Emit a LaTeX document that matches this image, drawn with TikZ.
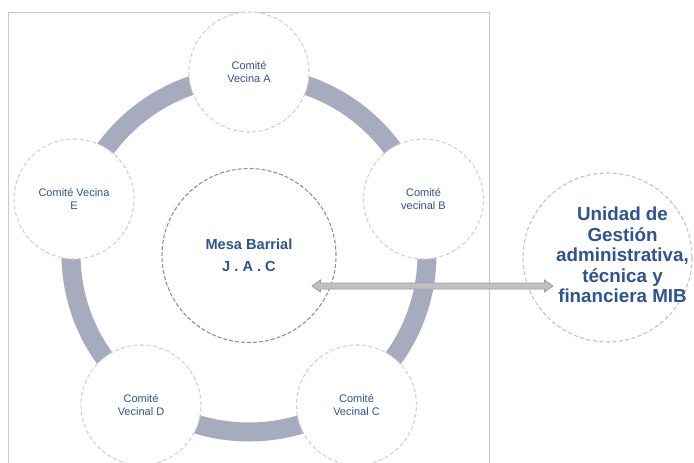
\documentclass[tikz,border=0pt]{standalone}
\usepackage{fontspec}
\setmainfont{Liberation Sans}
\usetikzlibrary{calc}
\definecolor{textblue}{RGB}{46,84,146}
\definecolor{ringgray}{RGB}{166,172,189}
\definecolor{dashlight}{RGB}{210,210,210}
\definecolor{dashmid}{RGB}{196,196,196}
\definecolor{dashdark}{RGB}{145,145,145}
\definecolor{framegray}{RGB}{200,200,200}
\definecolor{arrowfill}{RGB}{192,192,192}
\definecolor{arrowedge}{RGB}{158,158,158}
\begin{document}
\begin{tikzpicture}[x=1pt,y=-1pt,
  committee/.style={circle, draw=dashlight, dash pattern=on 4pt off 2.5pt,
    line width=1.1pt, fill=white, minimum size=120pt, inner sep=0pt,
    align=center, text=textblue, font=\fontsize{11}{12.8}\selectfont},
  hub/.style={circle, draw=dashdark, dash pattern=on 4pt off 2pt,
    line width=1.1pt, fill=white, minimum size=174pt, inner sep=0pt,
    align=center, text=textblue, font=\bfseries\fontsize{14.6}{22}\selectfont},
  unit/.style={circle, draw=dashmid, dash pattern=on 4pt off 2.5pt,
    line width=1.1pt, fill=white, minimum size=169pt, inner sep=0pt},
  unittext/.style={align=center, text=textblue, inner sep=0pt,
    font=\bfseries\fontsize{18.8}{20.5}\selectfont},
  ringband/.style={draw=ringgray, line width=19pt},
  arrowbody/.style={draw=arrowedge, fill=arrowfill, line width=0.8pt, line join=miter}
]
\useasboundingbox (0,0) rectangle (694,463);
\fill[white] (0,0) rectangle (694,463);

% frame around the neighbourhood structure
\draw[framegray, line width=0.9pt] (8,480) -- (8,12.5) -- (489,12.5) -- (489,480);

% ring linking the committees
\draw[ringband] (249,254) circle[radius=178pt];

% committees
\node[committee] (A) at (249,72)    {Comité\\Vecina A};
\node[committee] (B) at (423.5,199) {Comité\\vecinal B};
\node[committee] (C) at (356.5,405) {Comité\\Vecinal C};
\node[committee] (D) at (141,405)   {Comité\\Vecinal D};
\node[committee] (E) at (74,199)    {Comité Vecina\\E};

% central table
\node[hub] (jac) at (249,255.5) {Mesa Barrial\\J . A . C};

% management unit
\node[unit] (mib) at (607.5,257.5) {};
\node[unittext] (mibtext) at (622.5,255) {Unidad de\\Gestión\\administrativa,\\técnica y\\financiera MIB};

% two-way link between the table and the unit
\coordinate (a1) at (312,286);
\coordinate (a2) at (553,286);
\draw[arrowbody] (a1) -- ++(8.5,-6) -- ++(0,3) -- ($(a2)+(-8.5,-3)$) -- ++(0,-3)
  -- (a2) -- ++(-8.5,6) -- ++(0,-3) -- ($(a1)+(8.5,3)$) -- ++(0,3) -- cycle;
\end{tikzpicture}
\end{document}
